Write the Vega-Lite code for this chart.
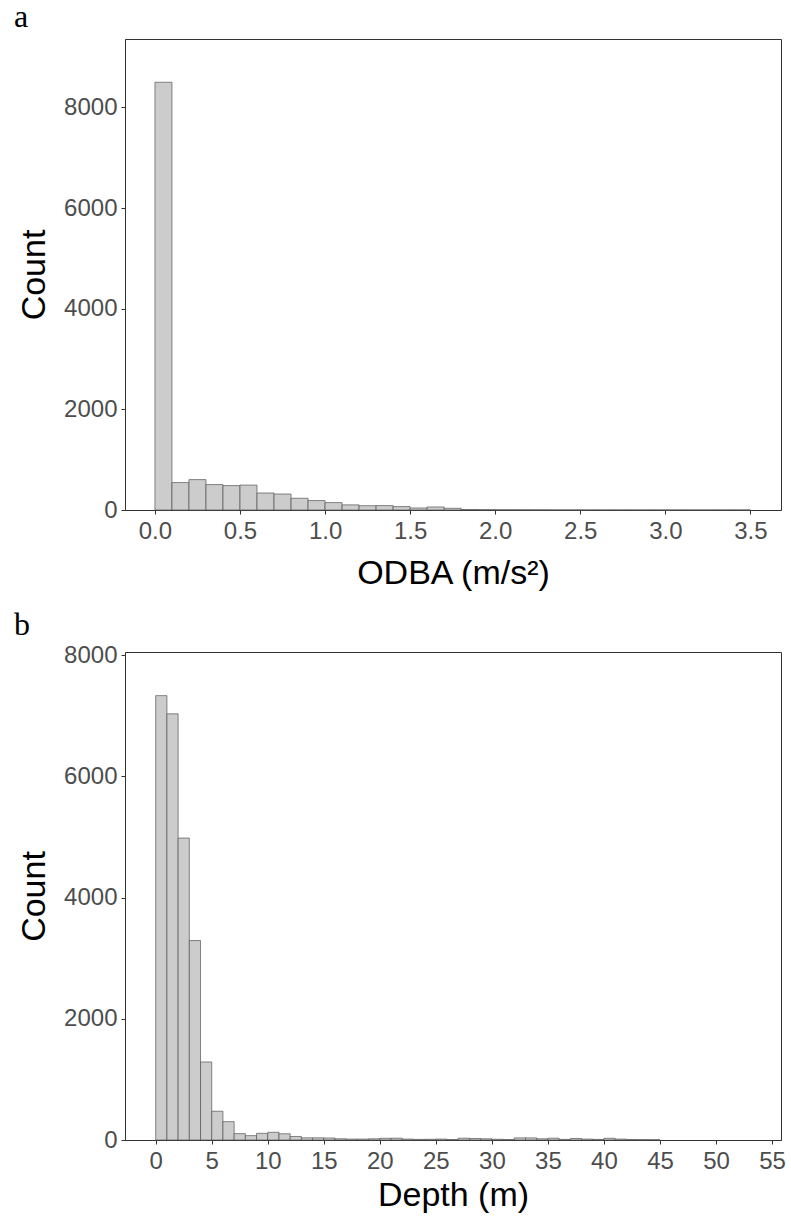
{
  "$schema": "https://vega.github.io/schema/vega-lite/v6.json",
  "padding": {"left": 13, "top": 0, "right": 10, "bottom": 2},
  "background": "white",
  "datasets": {
    "odba": [
      {"bin_start": 0.0, "bin_end": 0.1, "count": 8500},
      {"bin_start": 0.1, "bin_end": 0.2, "count": 545},
      {"bin_start": 0.2, "bin_end": 0.3, "count": 604},
      {"bin_start": 0.3, "bin_end": 0.4, "count": 505},
      {"bin_start": 0.4, "bin_end": 0.5, "count": 485},
      {"bin_start": 0.5, "bin_end": 0.6, "count": 495},
      {"bin_start": 0.6, "bin_end": 0.7, "count": 338},
      {"bin_start": 0.7, "bin_end": 0.8, "count": 318},
      {"bin_start": 0.8, "bin_end": 0.9, "count": 233},
      {"bin_start": 0.9, "bin_end": 1.0, "count": 187},
      {"bin_start": 1.0, "bin_end": 1.1, "count": 147},
      {"bin_start": 1.1, "bin_end": 1.2, "count": 102},
      {"bin_start": 1.2, "bin_end": 1.3, "count": 85},
      {"bin_start": 1.3, "bin_end": 1.4, "count": 87},
      {"bin_start": 1.4, "bin_end": 1.5, "count": 68},
      {"bin_start": 1.5, "bin_end": 1.6, "count": 40},
      {"bin_start": 1.6, "bin_end": 1.7, "count": 60},
      {"bin_start": 1.7, "bin_end": 1.8, "count": 34},
      {"bin_start": 1.8, "bin_end": 1.9, "count": 10},
      {"bin_start": 1.9, "bin_end": 2.0, "count": 7},
      {"bin_start": 2.0, "bin_end": 2.1, "count": 5},
      {"bin_start": 2.1, "bin_end": 2.2, "count": 4},
      {"bin_start": 2.2, "bin_end": 2.3, "count": 3},
      {"bin_start": 2.3, "bin_end": 2.4, "count": 2},
      {"bin_start": 2.4, "bin_end": 2.5, "count": 2},
      {"bin_start": 2.5, "bin_end": 2.6, "count": 1},
      {"bin_start": 2.6, "bin_end": 2.7, "count": 1},
      {"bin_start": 2.7, "bin_end": 2.8, "count": 1},
      {"bin_start": 2.8, "bin_end": 2.9, "count": 1},
      {"bin_start": 2.9, "bin_end": 3.0, "count": 1},
      {"bin_start": 3.0, "bin_end": 3.1, "count": 1},
      {"bin_start": 3.1, "bin_end": 3.2, "count": 1},
      {"bin_start": 3.2, "bin_end": 3.3, "count": 1},
      {"bin_start": 3.3, "bin_end": 3.4, "count": 1},
      {"bin_start": 3.4, "bin_end": 3.5, "count": 1}
    ],
    "depth": [
      {"bin_start": 0, "bin_end": 1, "count": 7330},
      {"bin_start": 1, "bin_end": 2, "count": 7030},
      {"bin_start": 2, "bin_end": 3, "count": 4980},
      {"bin_start": 3, "bin_end": 4, "count": 3290},
      {"bin_start": 4, "bin_end": 5, "count": 1287},
      {"bin_start": 5, "bin_end": 6, "count": 474},
      {"bin_start": 6, "bin_end": 7, "count": 303},
      {"bin_start": 7, "bin_end": 8, "count": 105},
      {"bin_start": 8, "bin_end": 9, "count": 72},
      {"bin_start": 9, "bin_end": 10, "count": 110},
      {"bin_start": 10, "bin_end": 11, "count": 127},
      {"bin_start": 11, "bin_end": 12, "count": 102},
      {"bin_start": 12, "bin_end": 13, "count": 58},
      {"bin_start": 13, "bin_end": 14, "count": 36},
      {"bin_start": 14, "bin_end": 15, "count": 36},
      {"bin_start": 15, "bin_end": 16, "count": 33},
      {"bin_start": 16, "bin_end": 17, "count": 20},
      {"bin_start": 17, "bin_end": 18, "count": 15},
      {"bin_start": 18, "bin_end": 19, "count": 15},
      {"bin_start": 19, "bin_end": 20, "count": 20},
      {"bin_start": 20, "bin_end": 21, "count": 28},
      {"bin_start": 21, "bin_end": 22, "count": 30},
      {"bin_start": 22, "bin_end": 23, "count": 15},
      {"bin_start": 23, "bin_end": 24, "count": 10},
      {"bin_start": 24, "bin_end": 25, "count": 12},
      {"bin_start": 25, "bin_end": 26, "count": 15},
      {"bin_start": 26, "bin_end": 27, "count": 8},
      {"bin_start": 27, "bin_end": 28, "count": 30},
      {"bin_start": 28, "bin_end": 29, "count": 25},
      {"bin_start": 29, "bin_end": 30, "count": 20},
      {"bin_start": 30, "bin_end": 31, "count": 12},
      {"bin_start": 31, "bin_end": 32, "count": 8},
      {"bin_start": 32, "bin_end": 33, "count": 35},
      {"bin_start": 33, "bin_end": 34, "count": 35},
      {"bin_start": 34, "bin_end": 35, "count": 20},
      {"bin_start": 35, "bin_end": 36, "count": 30},
      {"bin_start": 36, "bin_end": 37, "count": 10},
      {"bin_start": 37, "bin_end": 38, "count": 25},
      {"bin_start": 38, "bin_end": 39, "count": 15},
      {"bin_start": 39, "bin_end": 40, "count": 10},
      {"bin_start": 40, "bin_end": 41, "count": 28},
      {"bin_start": 41, "bin_end": 42, "count": 15},
      {"bin_start": 42, "bin_end": 43, "count": 8},
      {"bin_start": 43, "bin_end": 44, "count": 6},
      {"bin_start": 44, "bin_end": 45, "count": 5}
    ]
  },
  "config": {
    "view": {"stroke": "#333333", "strokeWidth": 1},
    "font": "Liberation Sans",
    "axis": {
      "grid": false,
      "domain": true,
      "domainColor": "#333333",
      "domainWidth": 1,
      "tickColor": "#333333",
      "tickSize": 4,
      "tickWidth": 1,
      "labelFont": "Liberation Sans",
      "labelFontSize": 24,
      "labelColor": "#4d4d4d",
      "titleFont": "Liberation Sans",
      "titleFontSize": 34,
      "titleFontWeight": "normal",
      "titleColor": "#000000"
    },
    "axisX": {"labelPadding": 5, "titlePadding": 5},
    "axisY": {"labelPadding": 4, "titlePadding": 12},
    "title": {
      "font": "Liberation Serif",
      "fontSize": 32,
      "fontWeight": "normal",
      "color": "#000000",
      "anchor": "start",
      "frame": "group",
      "baseline": "alphabetic"
    }
  },
  "vconcat": [
    {
      "data": {"name": "odba"},
      "title": {"text": "a", "dx": -111, "offset": 5},
      "width": 656,
      "height": 471,
      "mark": {"type": "bar", "fill": "#cccccc", "stroke": "#555555", "strokeWidth": 0.7},
      "encoding": {
        "x": {
          "field": "bin_start",
          "type": "quantitative",
          "scale": {"domain": [-0.176, 3.68], "nice": false, "zero": false},
          "axis": {"values": [0, 0.5, 1, 1.5, 2, 2.5, 3, 3.5], "format": ".1f", "title": "ODBA (m/s²)", "titlePadding": 13}
        },
        "x2": {"field": "bin_end"},
        "y": {
          "field": "count",
          "type": "quantitative",
          "scale": {"domain": [0, 9360], "nice": false},
          "axis": {"values": [0, 2000, 4000, 6000, 8000], "format": "d", "title": "Count"}
        },
        "y2": {"datum": 0}
      }
    },
    {
      "data": {"name": "depth"},
      "title": {"text": "b", "dx": -111, "offset": 1},
      "width": 656,
      "height": 488,
      "mark": {"type": "bar", "fill": "#cccccc", "stroke": "#555555", "strokeWidth": 0.7},
      "encoding": {
        "x": {
          "field": "bin_start",
          "type": "quantitative",
          "scale": {"domain": [-2.74, 55.8], "nice": false, "zero": false},
          "axis": {"values": [0, 5, 10, 15, 20, 25, 30, 35, 40, 45, 50, 55], "format": "d", "title": "Depth (m)"}
        },
        "x2": {"field": "bin_end"},
        "y": {
          "field": "count",
          "type": "quantitative",
          "scale": {"domain": [0, 8050], "nice": false},
          "axis": {"values": [0, 2000, 4000, 6000, 8000], "format": "d", "title": "Count"}
        },
        "y2": {"datum": 0}
      }
    }
  ],
  "spacing": 142,
  "bounds": "flush"
}
